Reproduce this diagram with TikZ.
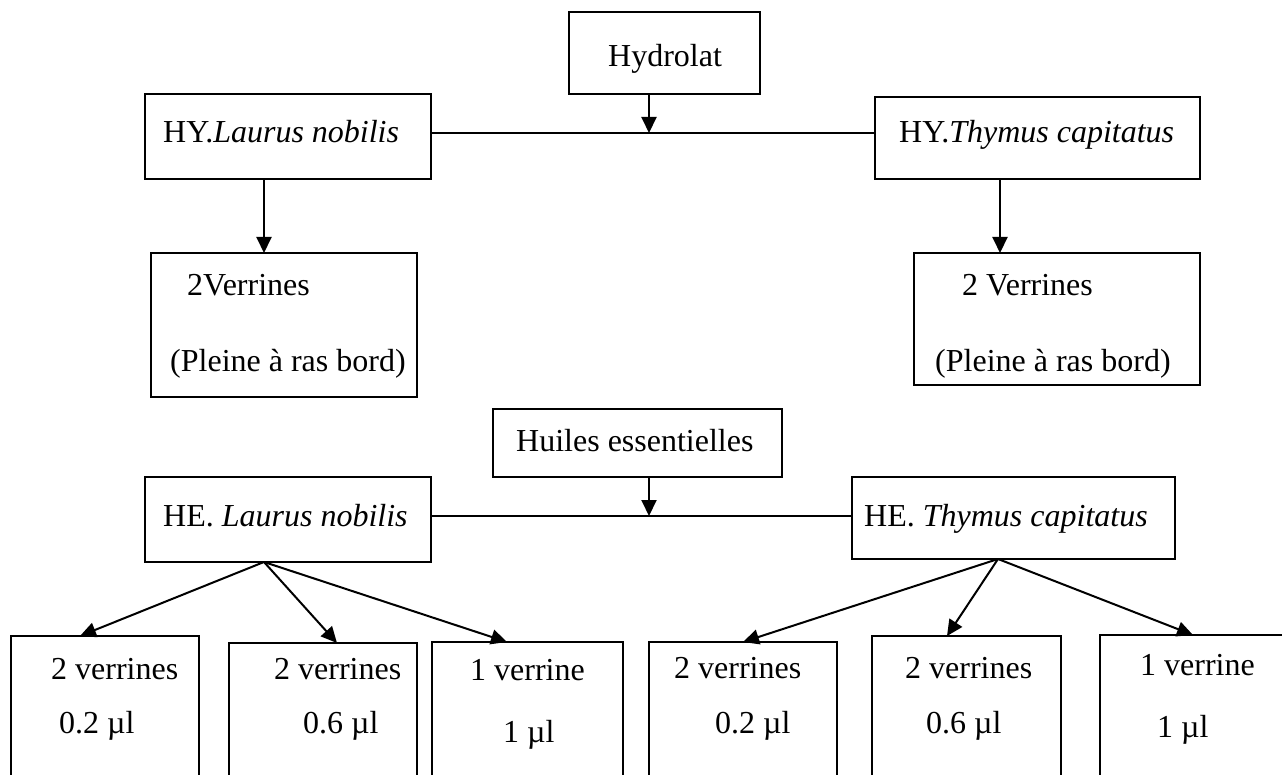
\documentclass[tikz,border=0pt]{standalone}
\usepackage{fontspec}
\setmainfont{Liberation Serif}
\usetikzlibrary{arrows.meta}
\begin{document}
\begin{tikzpicture}[x=1pt,y=-1pt,
  box/.style={draw,line width=1.6pt,inner sep=0pt,outer sep=0pt},
  lbl/.style={anchor=base west,inner sep=0pt,font=\fontsize{32}{38}\selectfont},
  conn/.style={line width=1.8pt},
  arr/.style={line width=2pt,-{Triangle[length=16pt,width=15pt]}}]
\useasboundingbox (0,0) rectangle (1282,775);
\clip (0,0) rectangle (1282,775);
% boxes
\node[box,minimum width=191pt,minimum height=82pt] (hydro) at (664.5,53) {};
\node[box,minimum width=286pt,minimum height=85pt] (hyL) at (288,136.5) {};
\node[box,minimum width=325pt,minimum height=82pt] (hyT) at (1037.5,138) {};
\node[box,minimum width=266pt,minimum height=144pt] (vL) at (284,325) {};
\node[box,minimum width=286pt,minimum height=132pt] (vT) at (1057,319) {};
\node[box,minimum width=289pt,minimum height=68pt] (huiles) at (637.5,443) {};
\node[box,minimum width=286pt,minimum height=85pt] (heL) at (288,519.5) {};
\node[box,minimum width=323pt,minimum height=82pt] (heT) at (1013.5,518) {};
\node[box,minimum width=188pt,minimum height=164pt] (b1) at (105,718) {};
\node[box,minimum width=188pt,minimum height=157pt] (b2) at (323,721.5) {};
\node[box,minimum width=191pt,minimum height=158pt] (b3) at (527.5,721) {};
\node[box,minimum width=188pt,minimum height=158pt] (b4) at (743,721) {};
\node[box,minimum width=189pt,minimum height=164pt] (b5) at (966.5,718) {};
\node[box,minimum width=200pt,minimum height=165pt] (b6) at (1200,717.5) {};
% texts
\node[lbl] (tHydro) at (608,67) {Hydrolat};
\node[lbl] (tHyL) at (163,143) {HY.\textit{Laurus nobilis}};
\node[lbl] (tHyT) at (899,143) {HY.\textit{Thymus capitatus}};
\node[lbl] (tVL1) at (187,296) {2Verrines};
\node[lbl] (tVL2) at (170,371) {(Pleine à ras bord)};
\node[lbl] (tVT1) at (962,296) {2 Verrines};
\node[lbl] (tVT2) at (935,371) {(Pleine à ras bord)};
\node[lbl] (tHuiles) at (516,451) {Huiles essentielles};
\node[lbl] (tHeL) at (163,526) {HE. \textit{Laurus nobilis}};
\node[lbl] (tHeT) at (864,526) {HE. \textit{Thymus capitatus}};
\node[lbl] (t11) at (51,679) {2 verrines};
\node[lbl] (t12) at (59,733) {0.2 µl};
\node[lbl] (t21) at (274,679) {2 verrines};
\node[lbl] (t22) at (303,733) {0.6 µl};
\node[lbl] (t31) at (470,680) {1 verrine};
\node[lbl] (t32) at (503,742) {1 µl};
\node[lbl] (t41) at (674,678) {2 verrines};
\node[lbl] (t42) at (715,733) {0.2 µl};
\node[lbl] (t51) at (905,678) {2 verrines};
\node[lbl] (t52) at (926,733) {0.6 µl};
\node[lbl] (t61) at (1140,675) {1 verrine};
\node[lbl] (t62) at (1157,737) {1 µl};
% connectors
\coordinate (j1) at (649,133);
\draw[conn] (hyL.east |- j1) -- (hyT.west |- j1);
\draw[arr] (hydro.south -| j1) -- (j1);
\draw[arr] ([xshift=119pt]hyL.south west) -- ([xshift=113pt]vL.north west);
\draw[arr] ([xshift=125pt]hyT.south west) -- ([xshift=86pt]vT.north west);
\coordinate (j2) at (649,516);
\draw[conn] (heL.east |- j2) -- (heT.west |- j2);
\draw[arr] (huiles.south -| j2) -- (j2);
\coordinate (oL) at ([xshift=119pt]heL.south west);
\coordinate (oT) at ([xshift=146pt]heT.south west);
\draw[arr] (oL) -- ([xshift=69pt]b1.north west);
\draw[arr] (oL) -- ([xshift=108pt]b2.north west);
\draw[arr] (oL) -- ([xshift=75pt]b3.north west);
\draw[arr] (oT) -- ([xshift=94pt]b4.north west);
\draw[arr] (oT) -- ([xshift=75pt]b5.north west);
\draw[arr] (oT) -- ([xshift=93pt]b6.north west);
\end{tikzpicture}
\end{document}
